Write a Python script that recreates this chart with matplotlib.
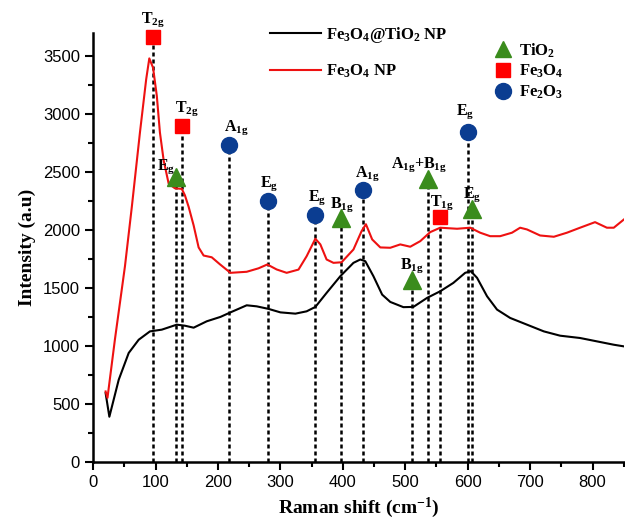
import matplotlib
matplotlib.use("Agg")
import matplotlib.pyplot as plt
from matplotlib.lines import Line2D
from matplotlib.ticker import MultipleLocator

# Raman spectra
shift_coated = [20, 26, 41, 57, 73, 91, 110, 134, 147, 161, 182, 204, 220, 246, 262, 281, 300, 324,
                342, 356, 374, 396, 417, 428, 436, 449, 463, 476, 497, 513, 535, 556, 577, 596, 605,
                615, 631, 647, 668, 695, 722, 748, 780, 807, 834, 850]
intensity_coated = [594, 390, 709, 940, 1054, 1126, 1141, 1184, 1175, 1158, 1213, 1251, 1290, 1351,
                    1342, 1320, 1290, 1279, 1299, 1337, 1458, 1602, 1717, 1746, 1731, 1602, 1443, 1380,
                    1335, 1337, 1415, 1472, 1544, 1631, 1645, 1588, 1429, 1314, 1242, 1184, 1126, 1089,
                    1069, 1040, 1011, 997]

shift_bare = [20, 23, 35, 51, 62, 75, 85, 90, 96, 102, 107, 113, 121, 131, 142, 147, 153, 161, 169,
              177, 190, 203, 220, 246, 265, 279, 294, 310, 329, 342, 356, 364, 374, 385, 398, 417, 430,
              437, 447, 460, 476, 492, 508, 524, 540, 556, 583, 604, 620, 636, 652, 671, 684, 695, 716,
              738, 759, 780, 804, 823, 834, 850]
intensity_bare = [608, 553, 1060, 1688, 2200, 2841, 3300, 3480, 3400, 3158, 2841, 2600, 2400, 2360,
                  2355, 2300, 2200, 2040, 1850, 1780, 1765, 1705, 1631, 1640, 1670, 1703, 1660, 1631,
                  1659, 1774, 1925, 1876, 1746, 1717, 1722, 1832, 1990, 2050, 1919, 1850, 1847, 1876,
                  1856, 1904, 1982, 2020, 2011, 2020, 1977, 1947, 1947, 1977, 2020, 2005, 1953, 1942,
                  1977, 2020, 2068, 2020, 2020, 2090]

# mode assignments
tio2_shift = [133, 397, 511, 537, 607]
tio2_height = [2455, 2100, 1573, 2437, 2178]
tio2_modes = ["E_g", "B_{1g}", "B_{1g}", "A_{1g}{+}B_{1g}", "E_g"]

fe3o4_shift = [96, 143, 556]
fe3o4_height = [3665, 2895, 2110]
fe3o4_modes = ["T_{2g}", "T_{2g}", "T_{1g}"]

fe2o3_shift = [218, 280, 356, 433, 601]
fe2o3_height = [2730, 2247, 2126, 2342, 2843]
fe2o3_modes = ["A_{1g}", "E_g", "E_g", "A_{1g}", "E_g"]

# label offsets in points (dx, dy)
tio2_off = [(-7, 1), (1, 3.5), (0, 3.5), (-7, 4), (0, 4)]
fe3o4_off = [(0, 6), (3, 6), (1, 4)]
fe2o3_off = [(5, 6), (1, 6), (1, 6), (3, 5), (-2, 8)]

GREEN = "#3a8c1c"
RED = "#ff0000"
BLUE = "#0b3d91"

plt.rcParams["mathtext.fontset"] = "custom"
plt.rcParams["mathtext.rm"] = "Liberation Serif:bold"
plt.rcParams["mathtext.it"] = "Liberation Serif:bold"
plt.rcParams["mathtext.bf"] = "Liberation Serif:bold"
plt.rcParams["font.family"] = "Liberation Sans"

fig = plt.figure(figsize=(6.25, 5.22), dpi=100)
ax = fig.add_axes([0.149, 0.115, 0.849, 0.822])

ax.plot(shift_coated, intensity_coated, color="black", lw=1.5, zorder=3)
ax.plot(shift_bare, intensity_bare, color="#ee1111", lw=1.5, zorder=3)

groups = [
    (tio2_shift, tio2_height, tio2_modes, tio2_off, "^", GREEN, 12.5),
    (fe3o4_shift, fe3o4_height, fe3o4_modes, fe3o4_off, "s", RED, 9.5),
    (fe2o3_shift, fe2o3_height, fe2o3_modes, fe2o3_off, "o", BLUE, 11.5),
]
for xs, ys, modes, offs, mk, col, ms in groups:
    for x, y, m, off in zip(xs, ys, modes, offs):
        ax.plot([x, x], [0, y], color="black", lw=1.8, ls=(0, (1.6, 1.2)), zorder=2)
        ax.plot(x, y, marker=mk, color=col, ms=ms, mec=col, zorder=5, clip_on=False)
        ax.annotate("$%s$" % m, (x, y), xytext=off, textcoords="offset points",
                    ha="center", va="bottom", fontsize=11.5, zorder=6, annotation_clip=False)

ax.set_xlim(0, 850)
ax.set_ylim(0, 3700)
ax.xaxis.set_major_locator(MultipleLocator(100))
ax.xaxis.set_minor_locator(MultipleLocator(50))
ax.yaxis.set_major_locator(MultipleLocator(500))
ax.yaxis.set_minor_locator(MultipleLocator(250))
ax.tick_params(which="major", direction="out", length=6, width=1.5, labelsize=12)
ax.tick_params(which="minor", direction="out", length=3.5, width=1.5)
for s in ["top", "right"]:
    ax.spines[s].set_visible(False)
for s in ["left", "bottom"]:
    ax.spines[s].set_linewidth(1.8)

ax.set_xlabel("Raman shift (cm$^{-1}$)", family="Liberation Serif", fontweight="bold",
              fontsize=14, labelpad=4)
ax.set_ylabel("Intensity (a.u)", family="Liberation Serif", fontweight="bold",
              fontsize=14, labelpad=5)

line_handles = [Line2D([], [], color="black", lw=1.5), Line2D([], [], color="#ee1111", lw=1.5)]
leg1 = fig.legend(line_handles, ["Fe$_3$O$_4$@TiO$_2$ NP", "Fe$_3$O$_4$ NP"],
                  loc="upper left", bbox_to_anchor=(0.418, 0.968), frameon=False,
                  prop={"family": "Liberation Serif", "weight": "bold", "size": 12},
                  handlelength=3.1, handletextpad=0.3, labelspacing=1.05, borderpad=0)

mk_handles = [Line2D([], [], ls="none", marker="^", color=GREEN, ms=12),
              Line2D([], [], ls="none", marker="s", color=RED, ms=10),
              Line2D([], [], ls="none", marker="o", color=BLUE, ms=11.5)]
leg2 = fig.legend(mk_handles, ["TiO$_2$", "Fe$_3$O$_4$", "Fe$_2$O$_3$"],
                  loc="upper left", bbox_to_anchor=(0.775, 0.937), frameon=False,
                  prop={"family": "Liberation Serif", "weight": "bold", "size": 12},
                  handlelength=1.2, handletextpad=0.4, labelspacing=0.2, borderpad=0)

fig.savefig("out.png", dpi=100)
